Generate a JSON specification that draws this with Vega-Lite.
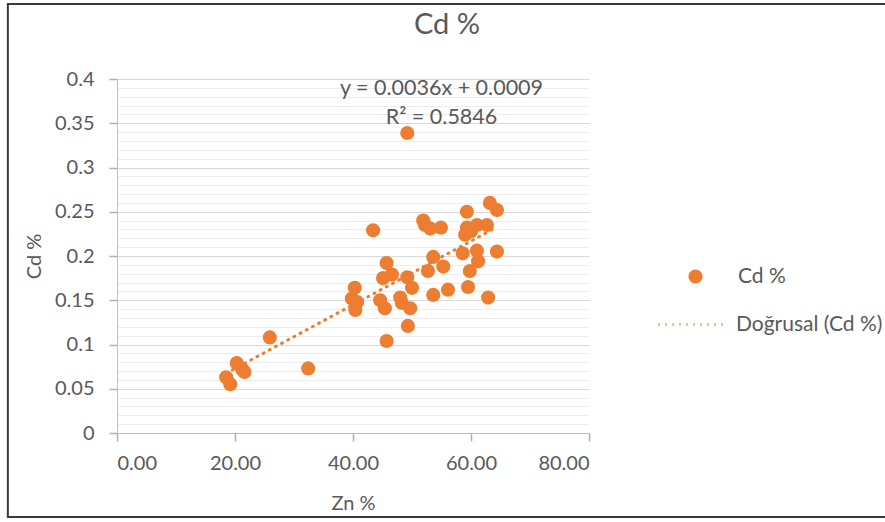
{
  "$schema": "https://vega.github.io/schema/vega-lite/v6.json",
  "width": 472,
  "height": 354,
  "autosize": {"type": "none"},
  "padding": {"left": 117, "top": 79, "right": 296, "bottom": 89},
  "background": "white",
  "config": {
    "view": {"stroke": null},
    "font": "Lato",
    "axis": {
      "labelFont": "Lato",
      "titleFont": "Lato",
      "labelColor": "#595959",
      "titleColor": "#595959",
      "labelFontSize": 20,
      "titleFontSize": 20,
      "titleFontWeight": "normal",
      "domainColor": "#BFBFBF",
      "tickColor": "#B0B0B0",
      "tickWidth": 1.5,
      "tickSize": 8
    },
    "legend": {"padding": 0, "labelFont": "Lato", "labelColor": "#595959", "labelFontSize": 21}
  },
  "title": {
    "text": "Cd %",
    "font": "Lato",
    "fontSize": 29,
    "fontWeight": "normal",
    "color": "#595959",
    "anchor": "middle",
    "dx": 94,
    "offset": -37
  },
  "resolve": {"axis": {"y": "independent"}},
  "layer": [
    {
      "data": {"values": [{"frame": 1}]},
      "mark": {"type": "rect", "fill": null, "stroke": "#3A3A3A", "strokeWidth": 2, "clip": false},
      "encoding": {
        "x": {"datum": -18.5, "type": "quantitative"},
        "x2": {"datum": 133},
        "y": {"datum": -0.095, "type": "quantitative", "axis": null},
        "y2": {"datum": 0.4847}
      }
    },
    {
      "data": {"values": [
        {"x": 18.5, "y": 0.0675, "s": "Doğrusal (Cd %)"},
        {"x": 64.4, "y": 0.2327, "s": "Doğrusal (Cd %)"}
      ]},
      "mark": {"type": "line", "color": "#ED7D31", "strokeWidth": 3, "strokeCap": "round"},
      "encoding": {
        "x": {"field": "x", "type": "quantitative", "scale": {"domain": [0, 80]},
          "axis": {"values": [0, 20, 40, 60, 80], "format": ".2f", "grid": false, "ticks": true, "title": "Zn %", "labelPadding": 12, "titlePadding": 20}},
        "y": {"field": "y", "type": "quantitative", "scale": {"domain": [0, 0.4]},
          "axis": {"orient": "left", "labels": false, "ticks": false, "domain": false, "title": null, "grid": true, "gridColor": "#EDEDED",
            "values": [0.01,0.02,0.03,0.04,0.06,0.07,0.08,0.09,0.11,0.12,0.13,0.14,0.16,0.17,0.18,0.19,0.21,0.22,0.23,0.24,0.26,0.27,0.28,0.29,0.31,0.32,0.33,0.34,0.36,0.37,0.38,0.39]}},
        "strokeDash": {"field": "s", "type": "nominal",
          "scale": {"domain": ["Doğrusal (Cd %)"], "range": [[1, 6]]},
          "legend": {"orient": "none", "legendX": 540, "legendY": 211, "title": null, "symbolType": "stroke",
            "symbolStrokeColor": "#ED7D31", "symbolStrokeWidth": 3, "symbolSize": 4356, "labelOffset": 10}}
      }
    },
    {
      "data": {"values": [
        {"x": 18.5, "y": 0.063, "s": "Cd %"},
        {"x": 19.2, "y": 0.055, "s": "Cd %"},
        {"x": 20.3, "y": 0.079, "s": "Cd %"},
        {"x": 21.2, "y": 0.072, "s": "Cd %"},
        {"x": 21.6, "y": 0.069, "s": "Cd %"},
        {"x": 25.9, "y": 0.108, "s": "Cd %"},
        {"x": 32.4, "y": 0.073, "s": "Cd %"},
        {"x": 40.3, "y": 0.164, "s": "Cd %"},
        {"x": 39.8, "y": 0.152, "s": "Cd %"},
        {"x": 40.7, "y": 0.148, "s": "Cd %"},
        {"x": 40.4, "y": 0.139, "s": "Cd %"},
        {"x": 43.4, "y": 0.229, "s": "Cd %"},
        {"x": 44.6, "y": 0.150, "s": "Cd %"},
        {"x": 45.4, "y": 0.141, "s": "Cd %"},
        {"x": 45.7, "y": 0.192, "s": "Cd %"},
        {"x": 45.1, "y": 0.175, "s": "Cd %"},
        {"x": 46.6, "y": 0.179, "s": "Cd %"},
        {"x": 45.7, "y": 0.104, "s": "Cd %"},
        {"x": 48.0, "y": 0.153, "s": "Cd %"},
        {"x": 48.3, "y": 0.147, "s": "Cd %"},
        {"x": 49.2, "y": 0.176, "s": "Cd %"},
        {"x": 50.0, "y": 0.164, "s": "Cd %"},
        {"x": 49.7, "y": 0.141, "s": "Cd %"},
        {"x": 49.3, "y": 0.121, "s": "Cd %"},
        {"x": 49.2, "y": 0.339, "s": "Cd %"},
        {"x": 51.9, "y": 0.240, "s": "Cd %"},
        {"x": 52.2, "y": 0.235, "s": "Cd %"},
        {"x": 53.1, "y": 0.231, "s": "Cd %"},
        {"x": 54.9, "y": 0.232, "s": "Cd %"},
        {"x": 52.7, "y": 0.183, "s": "Cd %"},
        {"x": 53.6, "y": 0.199, "s": "Cd %"},
        {"x": 55.3, "y": 0.188, "s": "Cd %"},
        {"x": 53.6, "y": 0.156, "s": "Cd %"},
        {"x": 56.1, "y": 0.162, "s": "Cd %"},
        {"x": 59.3, "y": 0.250, "s": "Cd %"},
        {"x": 59.3, "y": 0.232, "s": "Cd %"},
        {"x": 59.0, "y": 0.224, "s": "Cd %"},
        {"x": 60.0, "y": 0.228, "s": "Cd %"},
        {"x": 61.0, "y": 0.235, "s": "Cd %"},
        {"x": 62.7, "y": 0.235, "s": "Cd %"},
        {"x": 63.2, "y": 0.260, "s": "Cd %"},
        {"x": 64.4, "y": 0.252, "s": "Cd %"},
        {"x": 58.6, "y": 0.203, "s": "Cd %"},
        {"x": 61.0, "y": 0.206, "s": "Cd %"},
        {"x": 61.2, "y": 0.194, "s": "Cd %"},
        {"x": 59.8, "y": 0.183, "s": "Cd %"},
        {"x": 59.5, "y": 0.165, "s": "Cd %"},
        {"x": 62.9, "y": 0.153, "s": "Cd %"},
        {"x": 64.4, "y": 0.205, "s": "Cd %"}
      ]},
      "mark": {"type": "point", "filled": true, "opacity": 1, "size": 200},
      "encoding": {
        "x": {"field": "x", "type": "quantitative", "scale": {"domain": [0, 80]},
          "axis": {"values": [0, 20, 40, 60, 80], "format": ".2f", "grid": false, "ticks": true, "title": "Zn %", "labelPadding": 12, "titlePadding": 20}},
        "y": {"field": "y", "type": "quantitative", "scale": {"domain": [0, 0.4]},
          "axis": {"orient": "left", "values": [0, 0.05, 0.1, 0.15, 0.2, 0.25, 0.3, 0.35, 0.4], "labelExpr": "format(datum.value, '~g')",
            "grid": true, "gridColor": "#D9D9D9", "ticks": true, "tickSize": 8, "labelPadding": 15, "title": "Cd %", "titlePadding": 10}},
        "color": {"field": "s", "type": "nominal",
          "scale": {"domain": ["Cd %"], "range": ["#ED7D31"]},
          "legend": {"orient": "none", "legendX": 568, "legendY": 187, "title": null, "symbolType": "circle",
            "symbolSize": 200, "labelOffset": 32}}
      }
    },
    {
      "data": {"values": [
        {"x": 55.0, "y": 0.3887, "label": "y = 0.0036x + 0.0009"},
        {"x": 55.0, "y": 0.356, "label": "R² = 0.5846"}
      ]},
      "mark": {"type": "text", "font": "Lato", "fontSize": 21.5, "color": "#595959", "align": "center", "baseline": "middle"},
      "encoding": {
        "x": {"field": "x", "type": "quantitative"},
        "y": {"field": "y", "type": "quantitative", "axis": null},
        "text": {"field": "label"}
      }
    }
  ]
}
